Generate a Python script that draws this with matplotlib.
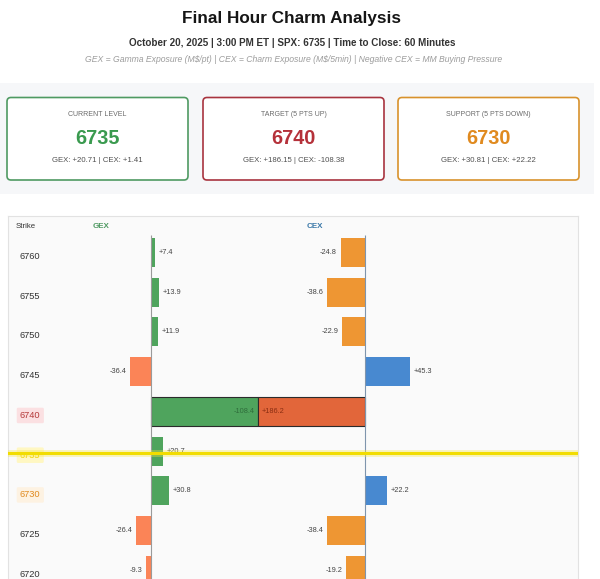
import matplotlib
matplotlib.use('Agg')
import matplotlib.pyplot as plt
from matplotlib.patches import FancyBboxPatch, Rectangle

plt.rcParams['font.family'] = ['Liberation Sans', 'DejaVu Sans']

# ---- data ----
strikes = [6760, 6755, 6750, 6745, 6740, 6735, 6730, 6725, 6720]
gex = [7.4, 13.9, 11.9, -36.4, 186.2, 20.7, 30.8, -26.4, -9.3]
cex = [-24.8, -38.6, -22.9, 45.3, -108.4, 1.4, 22.2, -38.4, -19.2]
spx = 6735
target = 6740
support = 6730

card_titles = ['CURRENT LEVEL', 'TARGET (5 PTS UP)', 'SUPPORT (5 PTS DOWN)']
card_levels = [6735, 6740, 6730]
card_gex = [20.71, 186.15, 30.81]
card_cex = [1.41, -108.38, 22.22]

title = 'Final Hour Charm Analysis'
subtitle = 'October 20, 2025 | 3:00 PM ET | SPX: 6735 | Time to Close: 60 Minutes'
legend_txt = ('GEX = Gamma Exposure (M$/pt) | CEX = Charm Exposure (M$/5min) | '
              'Negative CEX = MM Buying Pressure')

# ---- layout (pixels) ----
W, H = 600, 579
panel_x0, panel_x1, panel_top = 8, 578, 216
gex_zero_px, cex_zero_px = 151, 365
max_bar_px = 107
row_px = 39.74
first_row_px = 252.5
bar_px = 29

green = '#4fa45d'
coral = '#fb8457'
orange = '#ee9633'
blue = '#4889d0'
hot = '#e2663a'

fig = plt.figure(figsize=(W / 100, H / 100), dpi=100, facecolor='white')

# background / header axes in pixel units
bg = fig.add_axes([0, 0, 1, 1])
bg.set_xlim(0, W)
bg.set_ylim(H, 0)
bg.axis('off')

bg.text(W / 2 - 8, 18.5, title, ha='center', va='center', fontsize=12.3,
        fontweight='bold', color='#151515')
bg.text(W / 2 - 8, 42.5, subtitle, ha='center', va='center', fontsize=7.1,
        fontweight='bold', color='#333333')
bg.text(W / 2 - 6, 59, legend_txt, ha='center', va='center', fontsize=6.2,
        style='italic', color='#9c9c9c', parse_math=False)

bg.add_patch(Rectangle((0, 83), 594, 111, fc='#f6f7f9', ec='none'))

card_x = [7, 203, 398]
card_w, card_y, card_h = 181, 97.5, 82.5
card_edge = ['#4f9a62', '#a8343f', '#d8922c']
card_num = ['#3a9a4f', '#b5313a', '#e08a1f']
for i in range(3):
    bg.add_patch(FancyBboxPatch((card_x[i], card_y), card_w, card_h,
                                boxstyle='round,pad=0,rounding_size=4',
                                fc='white', ec=card_edge[i], lw=1.2))
    cx = card_x[i] + card_w / 2
    bg.text(cx, 114.5, card_titles[i], ha='center', va='center',
            fontsize=5, color='#6a6a6a')
    bg.text(cx, 138, str(card_levels[i]), ha='center', va='center',
            fontsize=14.3, fontweight='bold', color=card_num[i])
    bg.text(cx, 161, f'GEX: {card_gex[i]:+.2f} | CEX: {card_cex[i]:+.2f}',
            ha='center', va='center', fontsize=5.6, color='#505050')

# ---- chart axes ----
step = strikes[0] - strikes[1]
y_top = strikes[0] + (first_row_px - panel_top) / row_px * step
y_bot = strikes[0] - (H - first_row_px) / row_px * step
bar_h = bar_px / row_px * step
line_top = strikes[0] + (first_row_px - 235) / row_px * step

rect = [panel_x0 / W, 0, (panel_x1 - panel_x0) / W, (H - panel_top) / H]
gax = fig.add_axes(rect)
cax = fig.add_axes(rect, sharey=gax)

gscale = max_bar_px / max(abs(v) for v in gex)
cscale = max_bar_px / max(abs(v) for v in cex)
gax.set_xlim((panel_x0 - gex_zero_px) / gscale, (panel_x1 - gex_zero_px) / gscale)
cax.set_xlim((panel_x0 - cex_zero_px) / cscale, (panel_x1 - cex_zero_px) / cscale)
gax.set_ylim(y_bot, y_top)

gax.set_facecolor('#fafafa')
for s in ['left', 'top', 'right']:
    gax.spines[s].set_color('#e2e2e2')
    gax.spines[s].set_linewidth(0.8)
gax.spines['bottom'].set_visible(False)
gax.set_xticks([])
gax.set_yticks([])
cax.axis('off')
cax.patch.set_visible(False)

g_colors = [green if v >= 0 else coral for v in gex]
c_colors = [blue if v >= 0 else orange for v in cex]
g_edges = ['none'] * len(strikes)
c_edges = ['none'] * len(strikes)
for i, k in enumerate(strikes):
    if k == target:
        c_colors[i] = hot
        g_edges[i] = '#2b2b2b'
        c_edges[i] = '#2b2b2b'

gax.barh(strikes, gex, height=bar_h, color=g_colors, edgecolor=g_edges,
         linewidth=0.8, zorder=3)
cax.barh(strikes, cex, height=bar_h, color=c_colors, edgecolor=c_edges,
         linewidth=0.8, zorder=3)

gax.vlines(0, y_bot, line_top, color='#9a9a9a', lw=0.8, zorder=4)
cax.vlines(0, y_bot, line_top, color='#7f95ad', lw=0.8, zorder=4)

# value labels (all on the top axes so they sit above both bar sets)
for k, g, c in zip(strikes, gex, cex):
    gcol = '#444444'
    ccol = '#444444'
    if k == target:
        gcol = '#8a2e12'
        ccol = '#2f6d3b'
    off = 3.5 / gscale
    cax.text(g + off if g >= 0 else g - off, k, f'{g:+.1f}',
             transform=gax.transData,
             ha='left' if g >= 0 else 'right', va='center', fontsize=5.3,
             color=gcol, zorder=6)
    if abs(c) >= 2:
        off = 3.5 / cscale
        cax.text(c + off if c >= 0 else c - off, k, f'{c:+.1f}',
                 ha='left' if c >= 0 else 'right', va='center', fontsize=5.3,
                 color=ccol, zorder=6)

# strike labels
ytr = gax.get_yaxis_transform()
lab_x = (20 - panel_x0) / (panel_x1 - panel_x0)
label_dy = 4 / row_px * step
for k in strikes:
    kw = dict(color='#333333')
    if k == target:
        kw = dict(color='#b53a3a',
                  bbox=dict(boxstyle='round,pad=0.35,rounding_size=0.15',
                            fc='#fbe0e2', ec='none'))
    elif k == support:
        kw = dict(color='#e08a1f',
                  bbox=dict(boxstyle='round,pad=0.35,rounding_size=0.15',
                            fc='#fdf2e2', ec='none'))
    elif k == spx:
        kw = dict(color='#f0d200',
                  bbox=dict(boxstyle='round,pad=0.35,rounding_size=0.15',
                            fc='#fff7c2', ec='none'))
    gax.text(lab_x, k - label_dy, str(k), transform=ytr, ha='left',
             va='center', fontsize=6.7, zorder=2, **kw)

# headers
hy = 1 - (226 - panel_top) / (H - panel_top)
gax.text((16 - panel_x0) / (panel_x1 - panel_x0), hy, 'Strike',
         transform=gax.transAxes, ha='left', va='center', fontsize=5.6,
         color='#333333')
gax.text((93 - panel_x0) / (panel_x1 - panel_x0), hy, 'GEX',
         transform=gax.transAxes, ha='left', va='center', fontsize=5.8,
         fontweight='bold', color='#4f9a62')
gax.text((307 - panel_x0) / (panel_x1 - panel_x0), hy, 'CEX',
         transform=gax.transAxes, ha='left', va='center', fontsize=5.8,
         fontweight='bold', color='#3a78a8')

# current price line
price_y = spx - 2 / row_px * step
cax.axhline(price_y, color='#f7e84a', lw=5, alpha=0.35, zorder=7)
cax.axhline(price_y, color='#f2dc00', lw=2.2, zorder=8)

fig.savefig('out.png', dpi=100, facecolor='white')
